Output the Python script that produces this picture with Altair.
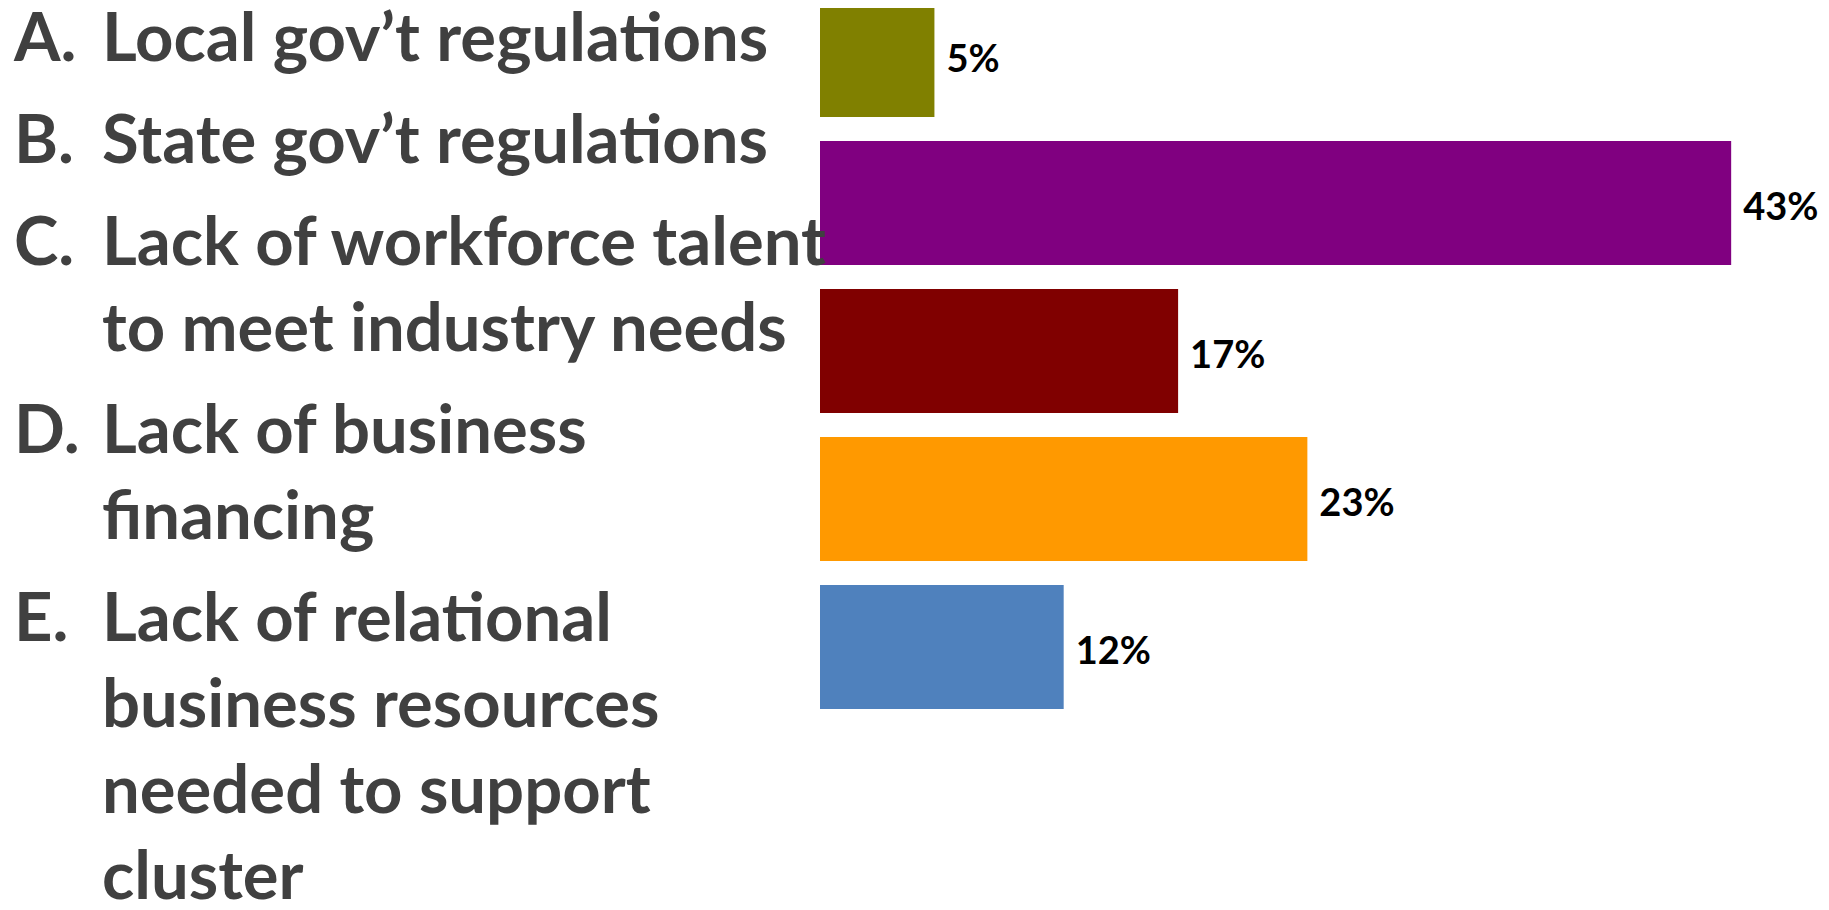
import altair as alt
import pandas as pd

# ---- content ----
letters = ["A.", "B.", "C.", "D.", "E."]
answer_lines = [
    ["Local gov’t regulations"],
    ["State gov’t regulations"],
    ["Lack of workforce talent", "to meet industry needs"],
    ["Lack of business", "financing"],
    ["Lack of relational", "business resources", "needed to support", "cluster"],
]
shares = [5.4, 43.0, 16.9, 23.0, 11.5]
share_labels = ["5%", "43%", "17%", "23%", "12%"]
bar_colors = ["#808000", "#800080", "#800000", "#FF9900", "#4F81BD"]

# ---- layout ----
W, H = 1813, 894
LINE, PARA, TOP = 86.0, 16.0, 53
TEXT_FONT = "Lato"
TEXT_SIZE = 67
TEXT_COLOR = "#404040"

bars = pd.DataFrame({"cat": letters, "value": shares, "label": share_labels})

rows = []
line_no = 0
for p, (letter, lines) in enumerate(zip(letters, answer_lines)):
    for k, t in enumerate(lines):
        rows.append({
            "text": t,
            "letter": letter if k == 0 else "",
            "slot": line_no + p * PARA / LINE,
        })
        line_no += 1
lines_df = pd.DataFrame(rows)
n_lines = line_no

x_scale = alt.Scale(domain=[0, 47], range=[812, 812 + 21.19 * 47])
y_band = alt.Scale(domain=letters, range=[-15, 701], paddingInner=0.162, paddingOuter=0)
y_text = alt.Scale(domain=[0, n_lines], range=[TOP, TOP + n_lines * LINE])

bar_layer = alt.Chart(bars).mark_bar().encode(
    x=alt.X("value:Q", scale=x_scale, axis=None),
    y=alt.Y("cat:N", scale=y_band, axis=None, sort=letters),
    color=alt.Color("cat:N", scale=alt.Scale(domain=letters, range=bar_colors), legend=None),
)

pct_layer = alt.Chart(bars).mark_text(
    align="left", baseline="alphabetic", dx=12, dy=17,
    font=TEXT_FONT, fontSize=38, fontWeight="bold", color="#000000",
).encode(
    x=alt.X("value:Q", scale=x_scale, axis=None),
    y=alt.Y("cat:N", scale=y_band, axis=None, sort=letters),
    text="label:N",
)

body_layer = alt.Chart(lines_df).mark_text(
    align="left", baseline="alphabetic",
    font=TEXT_FONT, fontSize=TEXT_SIZE, fontWeight="bold", color=TEXT_COLOR,
).encode(
    x=alt.value(94),
    y=alt.Y("slot:Q", scale=y_text, axis=None),
    text="text:N",
)

letter_layer = alt.Chart(lines_df).mark_text(
    align="left", baseline="alphabetic",
    font=TEXT_FONT, fontSize=TEXT_SIZE, fontWeight="bold", color=TEXT_COLOR,
).encode(
    x=alt.value(6),
    y=alt.Y("slot:Q", scale=y_text, axis=None),
    text="letter:N",
)

chart = alt.layer(
    alt.layer(bar_layer, pct_layer),
    alt.layer(body_layer, letter_layer),
).resolve_scale(y="independent").properties(
    width=W, height=H,
    autosize=alt.AutoSizeParams(type="none"),
    padding=0,
    background="#ffffff",
).configure_view(stroke=None)

chart.save("out.html", embed_options={"renderer": "svg", "actions": False})
